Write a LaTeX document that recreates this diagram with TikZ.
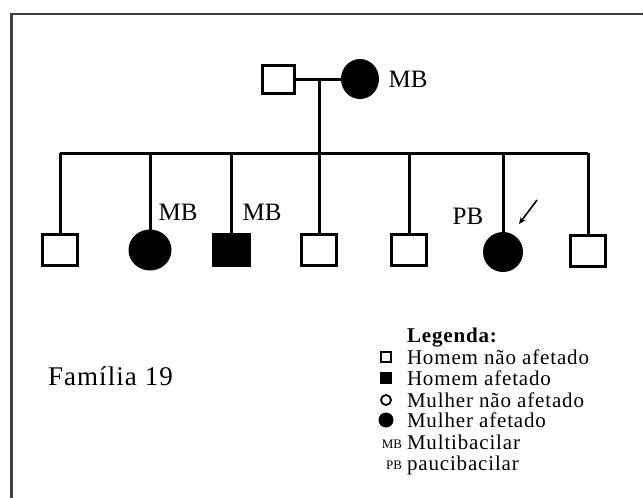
\documentclass[tikz,border=0pt]{standalone}
\usepackage{fontspec}
\setmainfont{Liberation Serif}
\newfontfamily\legfont[LetterSpace=4]{Liberation Serif}
\usetikzlibrary{arrows.meta, positioning, shapes.geometric}

\begin{document}
\begin{tikzpicture}[
  x=1pt, y=-1pt,
  every node/.style={inner sep=0pt, outer sep=0pt},
  male/.style={draw, rectangle, line width=3pt, minimum width=35pt, minimum height=31pt},
  malex/.style={male, fill=black},
  femx/.style={ellipse, fill=black, minimum width=40pt, minimum height=40pt},
  lbl/.style={font=\fontsize{25}{25}\selectfont},
  link/.style={line width=3pt},
  legtxt/.style={anchor=base west, font=\legfont\fontsize{21}{21}\selectfont},
  legabbr/.style={anchor=base east, font=\fontsize{13}{13}\selectfont},
  frame/.style={draw=black!75, line width=2.5pt}
]
  \useasboundingbox (0,0) rectangle (643,498);
  \draw[frame] (11.5,498) -- (11.5,14) -- (643,14);

  % parents
  \node[male, minimum width=32pt, minimum height=28pt] (father) at (278.5,79) {};
  \node[femx, minimum width=38pt, minimum height=40pt] (mother) at (360,79) {};
  \node[lbl] (mbMother) at (408,79) {MB};
  \draw[link] (father.east) -- (mother.west);

  \coordinate (mid) at (319,79);
  \coordinate (sib) at (319,153);
  \draw[link] (mid) -- (sib);

  % children
  \node[male] (c1) at (60,250) {};
  \node[femx, minimum width=43pt, minimum height=41pt] (c2) at (150,250) {};
  \node[malex, minimum width=36pt] (c3) at (231,250) {};
  \node[male] (c4) at (319,250) {};
  \node[male] (c5) at (409,250) {};
  \node[femx] (c6) at (503,252) {};
  \node[male] (c7) at (588,251) {};

  \draw[link] (c1 |- sib) -- (c7 |- sib);
  \draw[link] (c1 |- sib) -- (c1.north);
  \draw[link] (c2 |- sib) -- (c2.north);
  \draw[link] (c3 |- sib) -- (c3.north);
  \draw[link] (c4 |- sib) -- (c4.north);
  \draw[link] (c5 |- sib) -- (c5.north);
  \draw[link] (c6 |- sib) -- (c6.north);
  \draw[link] (c7 |- sib) -- (c7.north);

  \node[lbl] (mbC2) at (178,212) {MB};
  \node[lbl] (mbC3) at (262,212) {MB};
  \node[lbl] (pbC6) at (468,216) {PB};

  % proband
  \coordinate (arrTail) at (537,200);
  \coordinate (arrHead) at (519,224);
  \draw[line width=1.6pt, -{Stealth[length=7pt, width=6pt]}] (arrTail) -- (arrHead);

  \node[anchor=base west, font=\legfont\fontsize{27}{27}\selectfont] (fam) at (48,385) {Família 19};

  % legend
  \node[legtxt, font=\legfont\fontsize{21}{21}\selectfont\bfseries] (legTitle) at (407,342) {Legenda:};
  \node[draw, line width=1.5pt, minimum size=10pt] (symM) at (386,357) {};
  \node[legtxt] (txtM) at (407,364) {Homem não afetado};
  \node[fill=black, minimum size=12pt] (symMx) at (386,378) {};
  \node[legtxt] (txtMx) at (407,385) {Homem afetado};
  \node[draw, circle, line width=1.8pt, minimum size=10pt] (symF) at (386,400) {};
  \node[legtxt] (txtF) at (407,407) {Mulher não afetado};
  \node[fill=black, circle, minimum size=15pt] (symFx) at (386,420) {};
  \node[legtxt] (txtFx) at (407,427) {Mulher afetado};
  \node[legabbr] (symMB) at (402,448) {MB};
  \node[legtxt] (txtMB) at (407,449) {Multibacilar};
  \node[legabbr] (symPB) at (402,469) {PB};
  \node[legtxt] (txtPB) at (407,470) {paucibacilar};
\end{tikzpicture}
\end{document}
